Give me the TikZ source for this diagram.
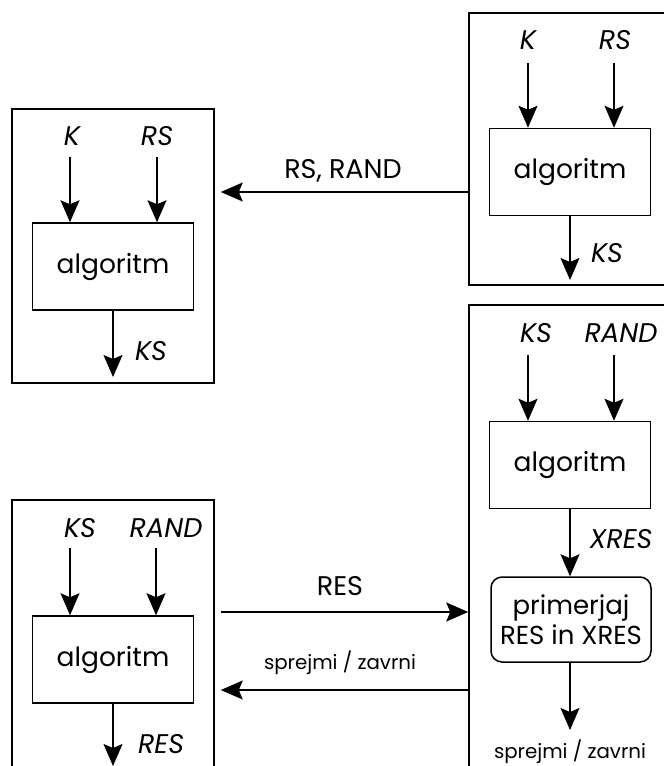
\documentclass[tikz,border=0pt]{standalone}
\usepackage{fontspec}
\setmainfont{Poppins}
\usetikzlibrary{arrows.meta}
\begin{document}
\begin{tikzpicture}[x=1pt,y=-1pt,
  frame/.style={draw, line width=1.5pt, inner sep=0pt},
  algbox/.style={draw, line width=1.5pt, inner sep=0pt,
    minimum width=161pt, minimum height=87pt,
    font=\fontsize{26.5}{30}\selectfont},
  cmpbox/.style={draw, line width=1.5pt, rounded corners=11pt, inner sep=0pt,
    minimum width=160pt, minimum height=85pt, align=center,
    font=\fontsize{26}{30}\selectfont},
  var/.style={anchor=base, inner sep=0pt, font=\fontsize{27}{30}\selectfont\itshape},
  msg/.style={anchor=base, inner sep=0pt, font=\fontsize{27}{30}\selectfont},
  small/.style={anchor=base, inner sep=0pt, font=\fontsize{19.8}{24}\selectfont},
  flow/.style={line width=1.5pt, -{Stealth[length=22pt,width=19pt,inset=4pt]}},
]
\useasboundingbox (0,0) rectangle (664,766);
\clip (0,0) rectangle (664,766);

% outer frames of the four parties
\node[frame, minimum width=202pt, minimum height=274pt] (boxA) at (113,246) {};
\node[frame, minimum width=211pt, minimum height=272pt] (boxB) at (574.5,149) {};
\node[frame, minimum width=211pt, minimum height=495pt] (boxC) at (574.5,552.5) {};
\node[frame, minimum width=202pt, minimum height=300pt] (boxD) at (113,650) {};

% algorithm blocks
\node[algbox] (algA) at (113,266.5) {algoritm};
\node[algbox] (algB) at (570,172) {algoritm};
\node[algbox] (algC) at (570,465) {algoritm};
\node[algbox] (algD) at (113,659.5) {algoritm};
\node[cmpbox] (cmp) at (571,619.5) {primerjaj\\RES in XRES};

% inputs and outputs
\node[var] (kA) at (72,145) {K};
\node[var] (rsA) at (157,145) {RS};
\node[var] (ksA) at (151,360) {KS};
\node[var] (kB) at (528,49) {K};
\node[var] (rsB) at (615,49) {RS};
\node[var] (ksB) at (607,262) {KS};
\node[var] (ksC) at (536,342) {KS};
\node[var] (randC) at (621,342) {RAND};
\node[var] (xresC) at (621,548) {XRES};
\node[var] (ksD) at (80,537) {KS};
\node[var] (randD) at (166,537) {RAND};
\node[var] (resD) at (161,753) {RES};

% messages
\node[msg] (mRsRand) at (343,178) {RS, RAND};
\node[msg] (mRes) at (340,595) {RES};
\node[small] (mAns) at (340,669) {sprejmi / zavrni};
\node[small] (outAns) at (570,758) {sprejmi / zavrni};

% arrow start and end points
\coordinate (inA1) at (70,157);
\coordinate (inA2) at (157,157);
\coordinate (outA) at (113,377);
\coordinate (inB1) at (528,63);
\coordinate (inB2) at (614,63);
\coordinate (outB) at (570,280);
\coordinate (inC1) at (528,355);
\coordinate (inC2) at (614,355);
\coordinate (outC) at (570,730);
\coordinate (inD1) at (70,548);
\coordinate (inD2) at (156,548);
\coordinate (outD) at (113,766);
\coordinate (rsy) at (340,192);
\coordinate (resy) at (340,612);
\coordinate (ansy) at (340,690);

\draw[flow] (inA1) -- (inA1 |- algA.north);
\draw[flow] (inA2) -- (inA2 |- algA.north);
\draw[flow] (algA.south) -- (outA);
\draw[flow] (inB1) -- (inB1 |- algB.north);
\draw[flow] (inB2) -- (inB2 |- algB.north);
\draw[flow] (algB.south) -- (outB);
\draw[flow] (inC1) -- (inC1 |- algC.north);
\draw[flow] (inC2) -- (inC2 |- algC.north);
\draw[flow] (algC.south) -- (algC.south |- cmp.north);
\draw[flow] (algC.south |- cmp.south) -- (outC);
\draw[flow] (inD1) -- (inD1 |- algD.north);
\draw[flow] (inD2) -- (inD2 |- algD.north);
\draw[flow] (algD.south) -- (outD);

% exchanged messages
\draw[flow] (rsy -| boxB.west) -- ([xshift=6pt]rsy -| boxA.east);
\draw[flow] ([xshift=6pt]resy -| boxD.east) -- (resy -| boxC.west);
\draw[flow] (ansy -| boxC.west) -- ([xshift=6pt]ansy -| boxD.east);
\end{tikzpicture}
\end{document}
